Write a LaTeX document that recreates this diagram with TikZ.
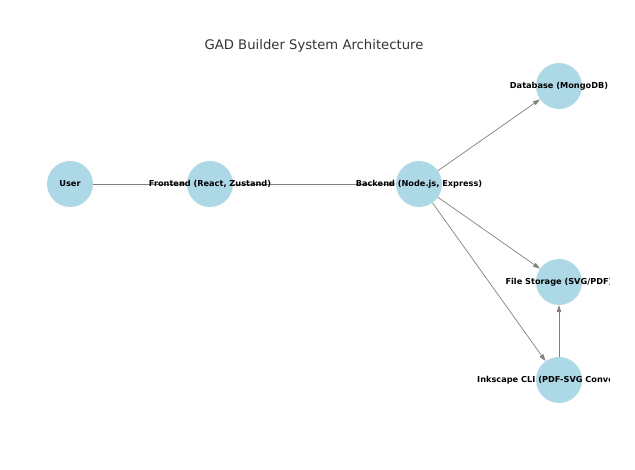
\documentclass[tikz,border=0pt]{standalone}
\usepackage{fontspec}
\setmainfont{DejaVu Sans}
\usetikzlibrary{arrows.meta,backgrounds}
\definecolor{nodeblue}{HTML}{ADD8E6}
\definecolor{edgegray}{HTML}{808080}
\definecolor{titlegray}{HTML}{333333}

\begin{document}
\begin{tikzpicture}[
  x=1pt, y=-1pt,
  comp/.style={circle, fill=nodeblue, minimum size=46pt, inner sep=0pt},
  lbl/.style={font=\fontsize{8.2}{9}\selectfont\bfseries, text=black, inner sep=0pt},
  link/.style={draw=edgegray, line width=0.7pt, -{Triangle[length=7pt,width=4.5pt]}}
]
\useasboundingbox (0,0) rectangle (635,470);
\clip (0,0) rectangle (609,470);
\node[font=\fontsize{13.2}{15}\selectfont, text=titlegray] (title) at (314,46) {GAD Builder System Architecture};
\node[comp, label={[lbl]center:User}] (user) at (70,184) {};
\node[comp, label={[lbl]center:Frontend (React, Zustand)}] (frontend) at (210,184) {};
\node[comp, label={[lbl]center:Backend (Node.js, Express)}] (backend) at (419,184) {};
\node[comp, label={[lbl]center:Database (MongoDB)}] (db) at (559,86) {};
\node[comp, label={[lbl]center:File Storage (SVG/PDF)}] (storage) at (559,282) {};
\node[comp, label={[lbl]center:Inkscape CLI (PDF-SVG Conversion)}] (inkscape) at (559,380) {};
\begin{scope}[on background layer]
\draw[link] (user) -- (frontend);
\draw[link] (frontend) -- (backend);
\draw[link] (backend) -- (db);
\draw[link] (backend) -- (storage);
\draw[link] (backend) -- (inkscape);
\draw[link] (inkscape) -- (storage);
\end{scope}
\end{tikzpicture}
\end{document}
